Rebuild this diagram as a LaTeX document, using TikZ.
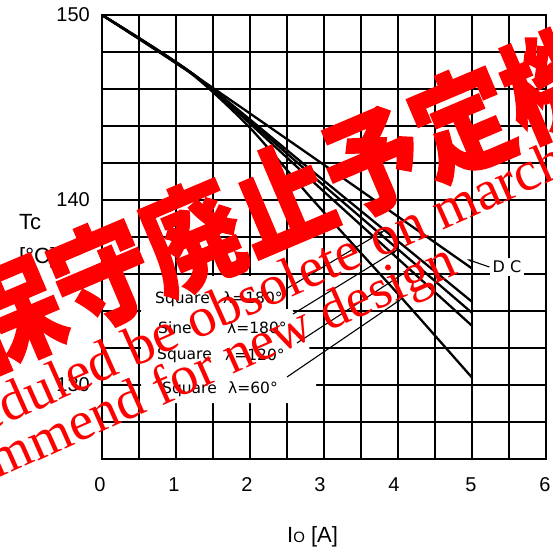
\documentclass[tikz,border=0pt]{standalone}
\usepackage{fontspec}
\usepackage{graphicx}
\setmainfont{Liberation Sans}
\newfontfamily\wmfont{Liberation Serif}
\newfontfamily\legfont{DejaVu Sans}
\newfontfamily\cjkfont{Noto Sans CJK JP}[BoldFeatures={FakeBold=1.2}]
\usetikzlibrary{arrows.meta}
\definecolor{wmred}{RGB}{255,0,0}
\begin{document}
\begin{tikzpicture}[x=1pt,y=-1pt,
  gridln/.style={line width=1.4pt},
  curve/.style={line width=2.3pt, line join=round},
  leader/.style={line width=1.1pt, -{Stealth[length=7pt,width=3.5pt]}},
  ticklbl/.style={font=\fontsize{20}{20}\selectfont, inner sep=0pt},
  axtitle/.style={font=\fontsize{22}{22}\selectfont, inner sep=0pt, anchor=west},
  legtxt/.style={font=\legfont\fontsize{15.5}{15.5}\selectfont, inner sep=0pt, anchor=base west},
  wm/.style={text=wmred, inner sep=0pt}]
\fill[white] (0,0) rectangle (553,552);
\useasboundingbox (0,0) rectangle (553,552);
% grid
\foreach \i in {0,...,12} {
  \draw[gridln] ({102+37*\i},15) -- ({102+37*\i},459);
  \draw[gridln] (102,{15+37*\i}) -- (546,{15+37*\i});
}
\draw[line width=2.2pt] (102,15) rectangle (546,459);
% blank legend area
\fill[white] (141,276) -- (285,276) -- (285,309) -- (292,309) -- (309,346)
  -- (316,383) -- (316,403) -- (141,403) -- cycle;
% curves in data coordinates: (I, 150-Tc)
\begin{scope}[shift={(102,15)}, x=74pt, y=-18.5pt]
  \draw[curve] plot[smooth, tension=0.4] coordinates {(0,0) (1.3,3.4) (3,8.1) (5,13.7)};
  \draw[curve] plot[smooth, tension=0.4] coordinates {(0,0) (1.3,3.4) (3,8.96) (5,15.5)};
  \draw[curve] plot[smooth, tension=0.4] coordinates {(0,0) (1.3,3.4) (3,9.23) (5,16.1)};
  \draw[curve] plot[smooth, tension=0.4] coordinates {(0,0) (1.3,3.4) (3,9.55) (5,16.8)};
  \draw[curve] plot[smooth, tension=0.4] coordinates {(0,0) (1.2,3.15) (2,6.1) (2.85,10) (4.05,15.3) (5,19.6)};
  \coordinate (t1) at (3.82,11.64);
  \coordinate (t2) at (4.0,12.67);
  \coordinate (t3) at (4.16,13.75);
  \coordinate (t4) at (4.05,15.34);
  \coordinate (tdc) at (4.93,13.2);
\end{scope}
% legend
\node[legtxt] (n1) at (155,303) {Square};
\node[legtxt] (v1) at (223,303) {λ=180°};
\node[legtxt] (n2) at (158,333) {Sine};
\node[legtxt] (v2) at (227,333) {λ=180°};
\node[legtxt] (n3) at (157,359) {Square};
\node[legtxt] (v3) at (225,360) {λ=120°};
\node[legtxt] (n4) at (162,393) {Square};
\node[legtxt] (v4) at (228,393) {λ=60°};
\coordinate (s1) at (286,289);
\coordinate (s2) at (293,314);
\coordinate (s3) at (297,343);
\coordinate (s4) at (287,377);
\draw[leader] (s1) -- (t1);
\draw[leader] (s2) -- (t2);
\draw[leader] (s3) -- (t3);
\draw[leader] (s4) -- (t4);
\node[fill=white, inner sep=3pt, font=\legfont\fontsize{16}{16}\selectfont] (dc) at (507,267) {D\,\,C};
\draw[leader] (dc.west) -- (tdc);
% axis labels
\node[ticklbl, anchor=east] (y150) at (90,15) {150};
\node[ticklbl, anchor=east] (y140) at (90,200) {140};
\node[ticklbl, anchor=east] (y130) at (90,385) {130};
\node[axtitle] (ty) at (19,222) {Tc};
\node[axtitle] (tu) at (19,258) {[°C]};
\node[ticklbl] (x0) at (100,485) {0};
\node[ticklbl] (x1) at (174,485) {1};
\node[ticklbl] (x2) at (247,485) {2};
\node[ticklbl] (x3) at (320,485) {3};
\node[ticklbl] (x4) at (394,485) {4};
\node[ticklbl] (x5) at (471,485) {5};
\node[ticklbl] (x6) at (545,485) {6};
\node[axtitle] (tx) at (287,537) {I{\fontsize{15}{15}\selectfont O} [A]};
% watermark
\node[wm, font=\cjkfont\bfseries\fontsize{100}{100}\selectfont, rotate=23] (wm1) at (282,199) {\scalebox{0.98}[1.12]{保守廃止予定機}};
\node[wm, font=\wmfont\fontsize{56}{56}\selectfont, rotate=24, anchor=base west] (wm2) at (-92,468) {Scheduled be obsolete on march};
\node[wm, font=\wmfont\fontsize{55}{55}\selectfont, rotate=24, anchor=base east] (wm3) at (460,273) {Not recommend for new design};
\end{tikzpicture}
\end{document}
